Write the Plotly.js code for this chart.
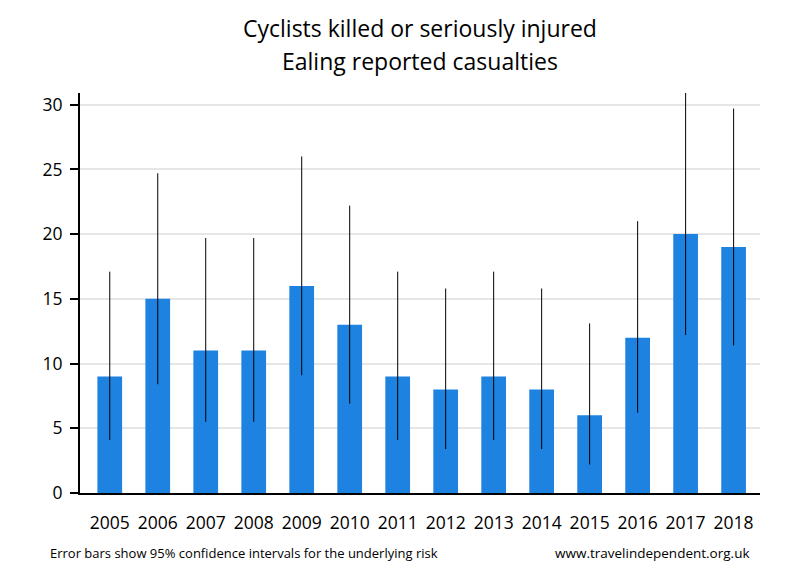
<!DOCTYPE html>
<html><head><meta charset="utf-8">
<script src="https://cdn.plot.ly/plotly-3.0.1.min.js"></script>
<style>html,body{margin:0;padding:0;background:#fff;}#chart{width:800px;height:580px;}</style>
</head><body><div id="chart"></div>
<script>
const years = ["2005","2006","2007","2008","2009","2010","2011","2012","2013","2014","2015","2016","2017","2018"];
const casualties = [9,15,11,11,16,13,9,8,9,8,6,12,20,19];
const ciUpper = [17.1,24.7,19.7,19.7,26.0,22.2,17.1,15.8,17.1,15.8,13.1,21.0,30.9,29.7];
const ciLower = [4.1,8.4,5.5,5.5,9.1,6.9,4.1,3.4,4.1,3.4,2.2,6.2,12.2,11.4];
const titleLines = ["Cyclists killed or seriously injured","Ealing reported casualties"];
const noteLeft = "Error bars show 95% confidence intervals for the underlying risk";
const noteRight = "www.travelindependent.org.uk";

const font = "Open Sans, Noto Sans, sans-serif";
const plus = casualties.map((v,i)=>ciUpper[i]-v);
const minus = casualties.map((v,i)=>v-ciLower[i]);

const trace = {
  type:'bar', x: years, y: casualties,
  marker:{color:'#1e82e0', line:{width:0}},
  error_y:{type:'data', symmetric:false, array:plus, arrayminus:minus, width:0, thickness:1, color:'#000'},
  hoverinfo:'x+y'
};
const layout = {
  width:800, height:580,
  margin:{l:80, r:40, t:93, b:87},
  paper_bgcolor:'#fff', plot_bgcolor:'#fff',
  showlegend:false,
  bargap:0.485,
  font:{family:font, color:'#000'},
  xaxis:{type:'category', range:[-0.62,13.55], showline:true, linecolor:'#000', linewidth:2,
    ticks:'', tickfont:{size:17.5, family:font, color:'#000'}, ticklabelstandoff:13, showgrid:false, zeroline:false, fixedrange:true},
  yaxis:{range:[0,30.9], tickvals:[0,5,10,15,20,25,30], showline:true, linecolor:'#000', linewidth:2,
    ticks:'outside', ticklen:8, tickwidth:2, tickcolor:'#000',
    tickfont:{size:17.5, family:font, color:'#000'}, ticklabelstandoff:4,
    showgrid:true, gridcolor:'#e6e6e6', gridwidth:2, zeroline:false, fixedrange:true}
};
layout.annotations = [
  {text:titleLines[0], xref:'paper', yref:'paper', x:0.5, y:1+(93-28)/400, xanchor:'center', yanchor:'middle', showarrow:false, font:{size:23, family:font, color:'#000'}},
  {text:titleLines[1], xref:'paper', yref:'paper', x:0.5, y:1+(93-61)/400, xanchor:'center', yanchor:'middle', showarrow:false, font:{size:23, family:font, color:'#000'}},
  {text:noteLeft, xref:'paper', yref:'paper', x:(48-80)/680, y:-(553-493)/400, xanchor:'left', yanchor:'middle', showarrow:false, font:{size:13, family:font, color:'#000'}},
  {text:noteRight, xref:'paper', yref:'paper', x:(752-80)/680, y:-(553-493)/400, xanchor:'right', yanchor:'middle', showarrow:false, font:{size:13.5, family:font, color:'#000'}}
];
Plotly.newPlot('chart',[trace],layout,{displayModeBar:false, staticPlot:true});
</script></body></html>
